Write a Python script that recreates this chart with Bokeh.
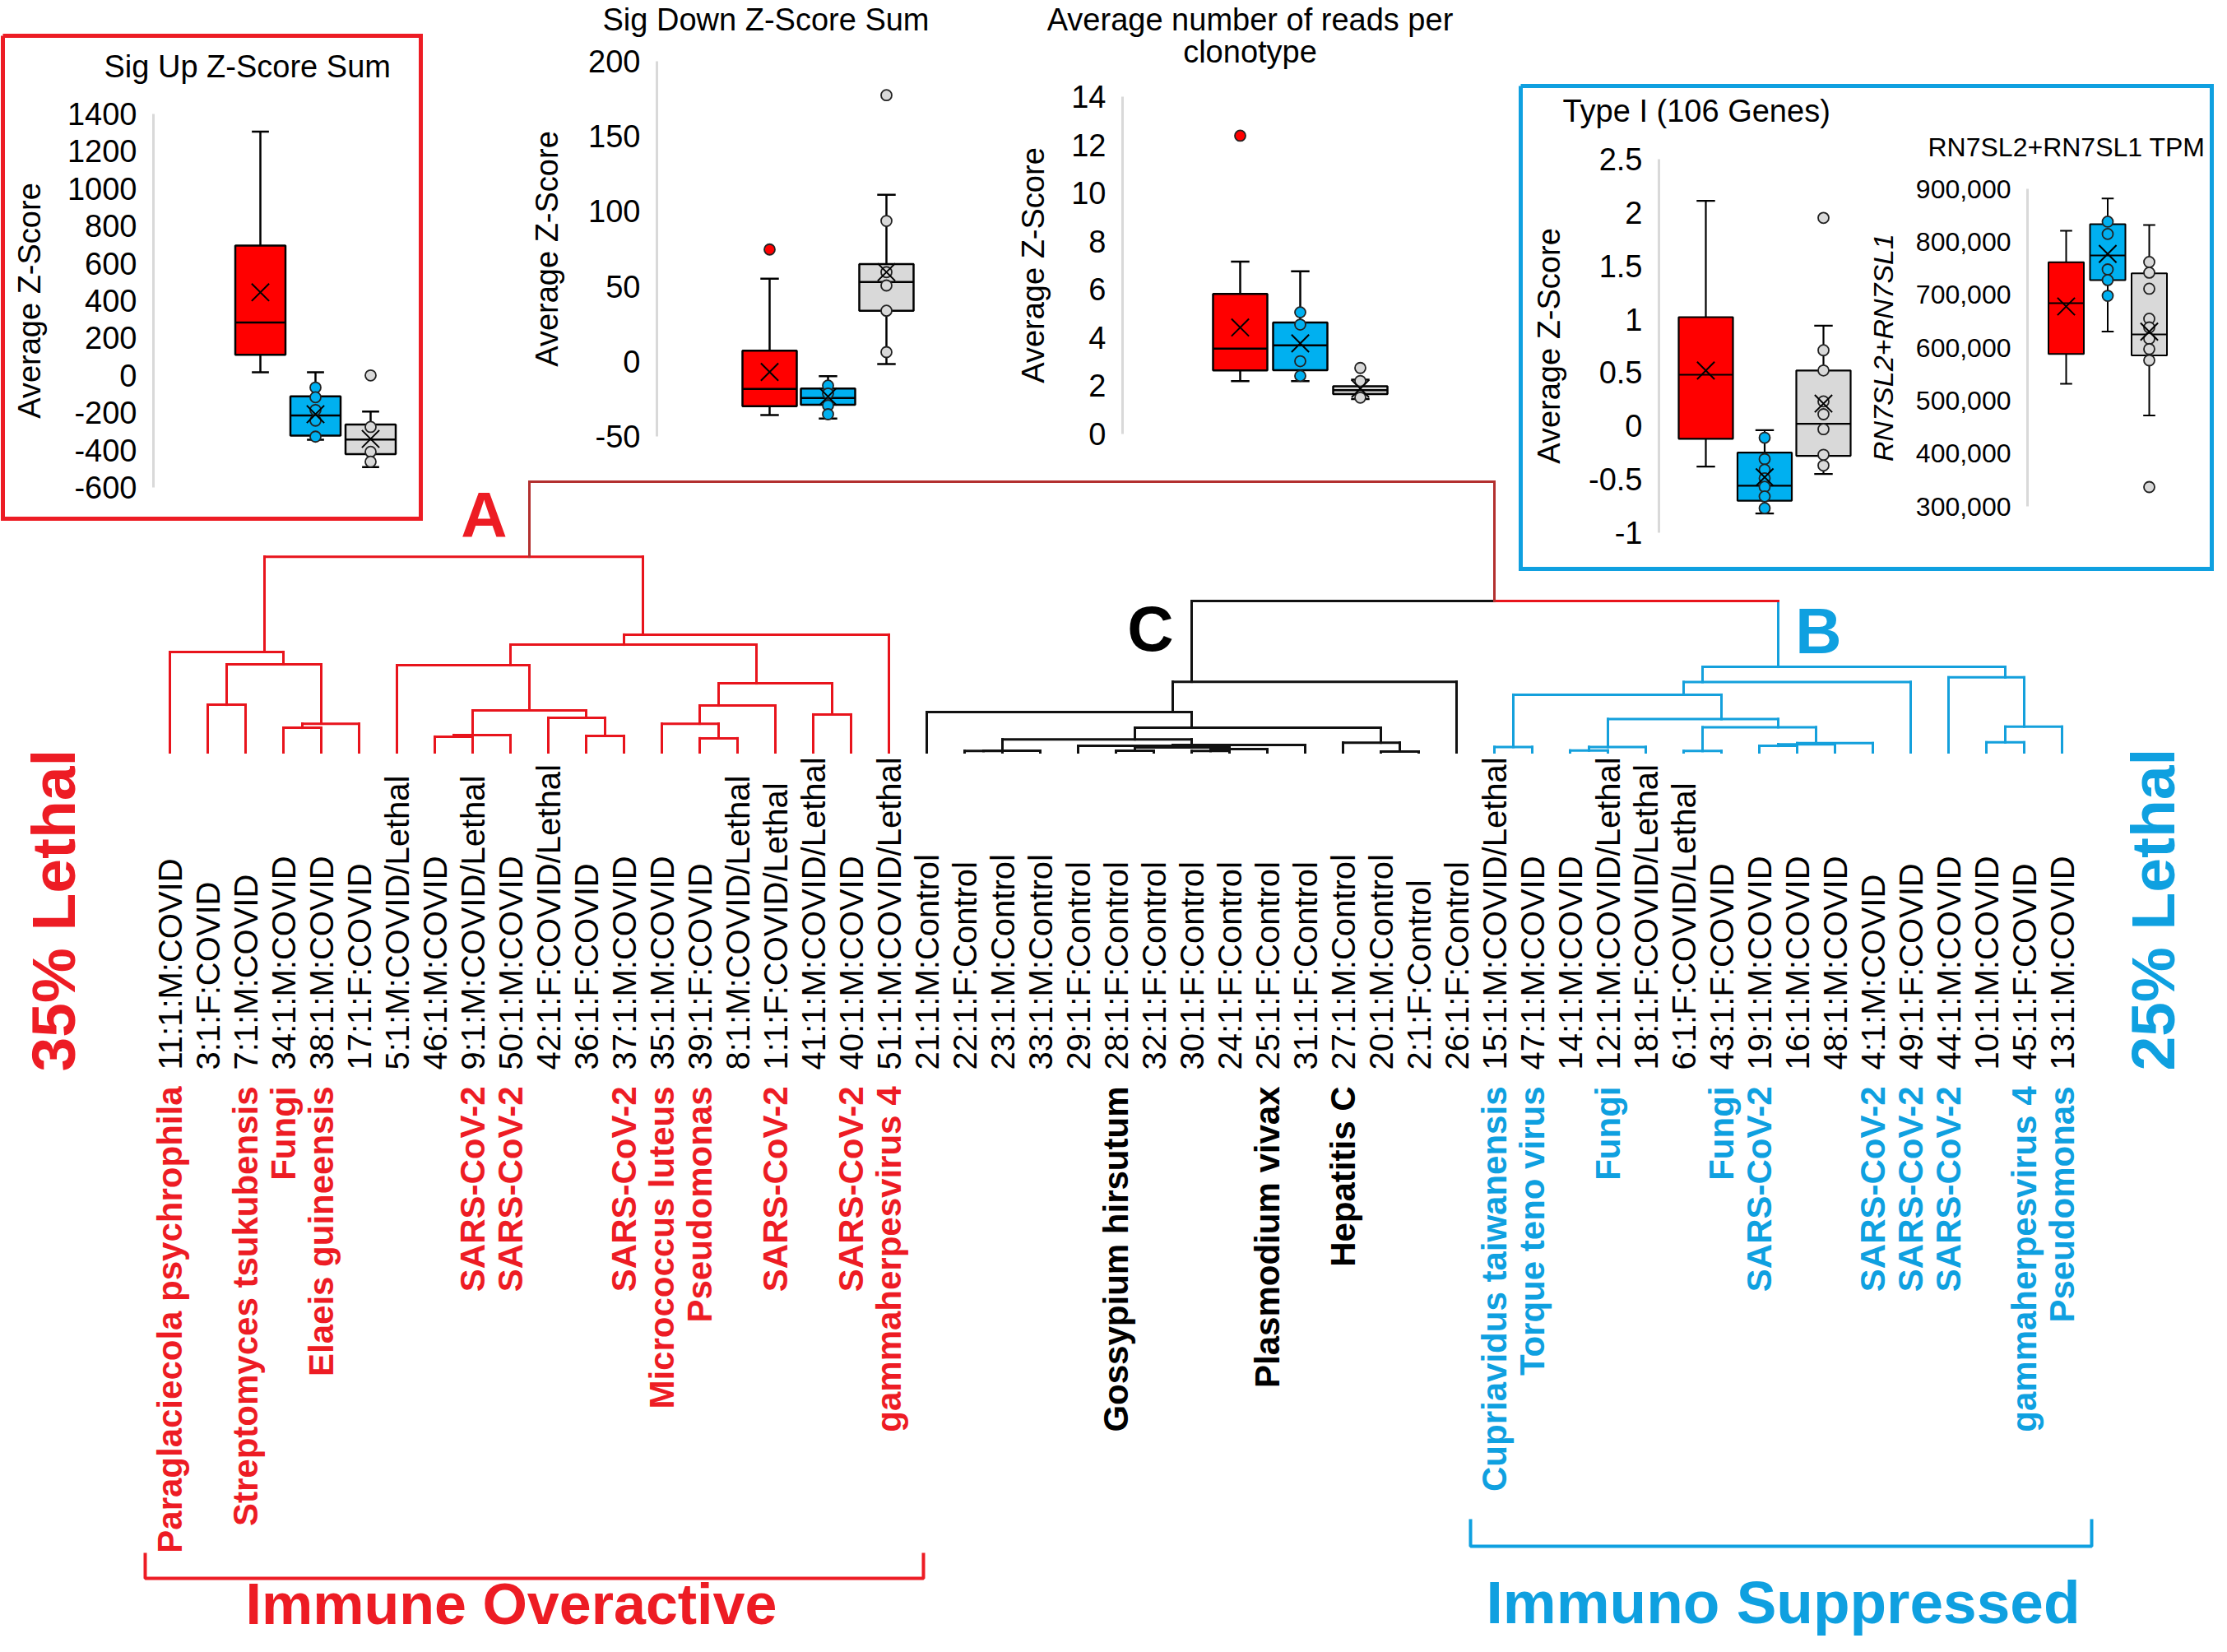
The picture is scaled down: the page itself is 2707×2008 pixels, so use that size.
import math
from bokeh.plotting import figure
from bokeh.models import Range1d, ColumnDataSource, FixedTicker, GridBox, Column
from bokeh.core.properties import value
from bokeh.embed import file_html
from bokeh.resources import INLINE

FONT = "Liberation Sans"
RED = "#ED1C24"
BLUE = "#0FA0E0"
ROOT_COL = "#B3302F"
BOX_FILLS = ["#FF0000", "#00B0F0", "#D9D9D9"]
LINE_COL = {"A": "#E8141C", "C": "#111111", "B": "#14A0DC"}
TEXT_COL = {"A": RED, "C": "#000000", "B": BLUE}

# ---------------------------------------------------------------- samples / dendrogram
SAMPLES = ["11:1:M:COVID", "3:1:F:COVID", "7:1:M:COVID", "34:1:M:COVID", "38:1:M:COVID", "17:1:F:COVID",
           "5:1:M:COVID/Lethal", "46:1:M:COVID", "9:1:M:COVID/Lethal", "50:1:M:COVID", "42:1:F:COVID/Lethal",
           "36:1:F:COVID", "37:1:M:COVID", "35:1:M:COVID", "39:1:F:COVID", "8:1:M:COVID/Lethal",
           "1:1:F:COVID/Lethal", "41:1:M:COVID/Lethal", "40:1:M:COVID", "51:1:M:COVID/Lethal",
           "21:1:M:Control", "22:1:F:Control", "23:1:M:Control", "33:1:M:Control", "29:1:F:Control",
           "28:1:F:Control", "32:1:F:Control", "30:1:F:Control", "24:1:F:Control", "25:1:F:Control",
           "31:1:F:Control", "27:1:M:Control", "20:1:M:Control", "2:1:F:Control", "26:1:F:Control",
           "15:1:M:COVID/Lethal", "47:1:M:COVID", "14:1:M:COVID", "12:1:M:COVID/Lethal", "18:1:F:COVID/Lethal",
           "6:1:F:COVID/Lethal", "43:1:F:COVID", "19:1:M:COVID", "16:1:M:COVID", "48:1:M:COVID",
           "4:1:M:COVID", "49:1:F:COVID", "44:1:M:COVID", "10:1:M:COVID", "45:1:F:COVID", "13:1:M:COVID"]

ORGANISMS = ["Paraglaciecola psychrophila", "", "Streptomyces tsukubensis", "Fungi", "Elaeis guineensis", "",
             "", "", "SARS-CoV-2", "SARS-CoV-2", "", "", "SARS-CoV-2", "Micrococcus luteus", "Pseudomonas", "",
             "SARS-CoV-2", "", "SARS-CoV-2", "gammaherpesvirus 4",
             "", "", "", "", "", "Gossypium hirsutum", "", "", "", "Plasmodium vivax", "", "Hepatitis C", "", "", "",
             "Cupriavidus taiwanensis", "Torque teno virus", "", "Fungi", "", "", "Fungi", "SARS-CoV-2", "", "",
             "SARS-CoV-2", "SARS-CoV-2", "SARS-CoV-2", "", "gammaherpesvirus 4", "Pseudomonas"]

CLUSTERS = ["A"] * 20 + ["C"] * 15 + ["B"] * 16

# merges: node ids 0..50 are leaves, merge k creates node 51+k
MERGE_A = [3, 51, 1, 53, 0, 7, 56, 11, 10, 57, 6, 14, 13, 63, 17, 64, 61, 67, 55,
           21, 70, 25, 27, 73, 72, 24, 76, 71, 32, 31, 78, 20, 82,
           35, 37, 85, 40, 42, 88, 89, 87, 86, 84, 93, 48, 95, 47, 94, 83, 69]
MERGE_B = [4, 5, 2, 52, 54, 8, 9, 12, 58, 59, 60, 15, 62, 16, 18, 65, 66, 19, 68,
           22, 23, 26, 28, 29, 74, 75, 30, 77, 33, 79, 80, 81, 34,
           36, 38, 39, 41, 43, 44, 45, 90, 91, 92, 46, 49, 50, 96, 97, 98, 99]
MERGE_H = [0.91, 1.06, 1.76, 3.25, 3.71, 0.58, 0.64, 0.61, 1.28, 1.55, 3.22, 0.52, 1.06, 1.73, 1.40, 2.55, 3.98, 4.35, 7.23,
           0.05, 0.06, 0.06, 0.05, 0.12, 0.18, 0.24, 0.27, 0.48, 0.03, 0.36, 0.91, 1.49, 2.61,
           0.20, 0.07, 0.20, 0.05, 0.24, 0.30, 0.34, 0.93, 1.23, 2.13, 2.60, 0.37, 0.95, 2.77, 3.16, 5.59, 10.0]

# ---------------------------------------------------------------- box plot data (groups: A red, B blue, C gray)
SIGUP_TICKS = [-600, -400, -200, 0, 200, 400, 600, 800, 1000, 1200, 1400]
SIGUP_Q1 = [110, -323, -422]
SIGUP_MED = [283, -215, -343]
SIGUP_Q3 = [695, -112, -263]
SIGUP_LO = [17, -345, -491]
SIGUP_HI = [1305, 17, -194]
SIGUP_MEAN = [445, -208, -340]
SIGUP_PTS = [[], [-65, -117, -185, -242, -328], [0, -276, -409, -462]]

SIGDOWN_TICKS = [-50, 0, 50, 100, 150, 200]
SIGDOWN_Q1 = [-29.9, -28.9, 33.8]
SIGDOWN_MED = [-18.4, -24.4, 53.0]
SIGDOWN_Q3 = [7.2, -18.1, 64.8]
SIGDOWN_LO = [-35.8, -38.1, -1.7]
SIGDOWN_HI = [55.1, -9.8, 111.1]
SIGDOWN_MEAN = [-7.0, -23.4, 59.5]
SIGDOWN_PTS = [[74.6], [-16.1, -21.4, -29.3, -35.2], [177.4, 93.6, 59.5, 50.6, 33.8, 6.2]]

READS_TICKS = [0, 2, 4, 6, 8, 10, 12, 14]
READS_Q1 = [2.64, 2.65, 1.66]
READS_MED = [3.54, 3.68, 1.82]
READS_Q3 = [5.81, 4.63, 1.98]
READS_LO = [2.19, 2.19, 1.45]
READS_HI = [7.15, 6.75, 2.25]
READS_MEAN = [4.42, 3.76, 1.88]
READS_PTS = [[12.38], [5.05, 4.54, 3.02, 2.41], [2.74, 2.2, 1.51]]

TYPE1_TICKS = [-1, -0.5, 0, 0.5, 1, 1.5, 2, 2.5]
TYPE1_LABELS = ["-1", "-0.5", "0", "0.5", "1", "1.5", "2", "2.5"]
TYPE1_Q1 = [-0.12, -0.70, -0.28]
TYPE1_MED = [0.48, -0.56, 0.02]
TYPE1_Q3 = [1.02, -0.25, 0.52]
TYPE1_LO = [-0.38, -0.82, -0.45]
TYPE1_HI = [2.11, -0.04, 0.94]
TYPE1_MEAN = [0.52, -0.48, 0.21]
TYPE1_PTS = [[], [-0.11, -0.31, -0.41, -0.49, -0.57, -0.66, -0.77],
             [1.95, 0.71, 0.52, 0.23, 0.11, -0.03, -0.27, -0.37]]

RN7SL_TICKS = [300000, 400000, 500000, 600000, 700000, 800000, 900000]
RN7SL_LABELS = ["300,000", "400,000", "500,000", "600,000", "700,000", "800,000", "900,000"]
RN7SL_Q1 = [588100, 727600, 585100]
RN7SL_MED = [683800, 773900, 624800]
RN7SL_Q3 = [761100, 833000, 740400]
RN7SL_LO = [531500, 630200, 471800]
RN7SL_HI = [820800, 881700, 831800]
RN7SL_MEAN = [677700, 777000, 630200]
RN7SL_PTS = [[], [837900, 814700, 747700, 727600, 697800],
             [761700, 741600, 711200, 654500, 638100, 616800, 597300, 575900, 336500]]

PANEL_TITLES = ["Sig Up Z-Score Sum", "Sig Down Z-Score Sum", "Average number of reads per", "clonotype",
                "Type I (106 Genes)", "RN7SL2+RN7SL1 TPM"]

# ---------------------------------------------------------------- layout constants (reference pixels)
OX, OY = 0, 0
W, H = 2691, 1992
LEAF0, LEAF_DX = 206.0, 46.0
BASE_Y, HT_PX = 914.0, 32.9
SAMPLE_Y, ORG_Y = 1300, 1320


def make_panel(frame, c1, dx, box_px, ticks, tick_labels, q1, med, q3, lo, hi, mean, pts,
               ylabel, label_standoff, tick_fs=38, label_fs=38, italic=False, lw=2.5):
    fl, ft, fr, fb = frame
    L, T, R, B = 205, 40, 25, 40
    xr = Range1d(1 - (c1 - fl) / dx, 1 + (fr - c1) / dx)
    p = figure(width=L + fr - fl + R, height=T + fb - ft + B, x_range=xr,
               y_range=Range1d(ticks[0], ticks[-1]), output_backend="svg",
               toolbar_location=None, x_axis_location=None, title=None,
               min_border_left=L, min_border_right=R, min_border_top=T, min_border_bottom=B)
    p.background_fill_color = None
    p.border_fill_color = None
    p.outline_line_color = None
    p.grid.visible = False
    ax = p.yaxis[0]
    ax.ticker = FixedTicker(ticks=ticks)
    ax.major_label_overrides = {t: s for t, s in zip(ticks, tick_labels)}
    ax.major_tick_line_color = None
    ax.minor_tick_line_color = None
    ax.major_tick_out = 0
    ax.major_tick_in = 0
    ax.minor_tick_out = 0
    ax.minor_tick_in = 0
    ax.axis_line_color = "#D9D9D9"
    ax.axis_line_width = 3
    ax.major_label_standoff = 20
    ax.major_label_text_font = FONT
    ax.major_label_text_font_size = f"{tick_fs}px"
    ax.major_label_text_color = "black"
    ax.axis_label = ylabel
    ax.axis_label_text_font = FONT
    ax.axis_label_text_font_size = f"{label_fs}px"
    ax.axis_label_text_font_style = "italic" if italic else "normal"
    ax.axis_label_text_color = "black"
    ax.axis_label_standoff = label_standoff

    bw = box_px / dx
    cw = 0.34 * bw
    xs = [1, 2, 3]
    src = ColumnDataSource(dict(
        x=xs, q1=q1, med=med, q3=q3, lo=lo, hi=hi, mean=mean, fill=BOX_FILLS,
        bl=[x - bw / 2 for x in xs], br=[x + bw / 2 for x in xs],
        cl=[x - cw / 2 for x in xs], cr=[x + cw / 2 for x in xs]))
    p.segment(x0="x", y0="q3", x1="x", y1="hi", source=src, line_color="black", line_width=lw)
    p.segment(x0="x", y0="q1", x1="x", y1="lo", source=src, line_color="black", line_width=lw)
    p.segment(x0="cl", y0="hi", x1="cr", y1="hi", source=src, line_color="black", line_width=lw)
    p.segment(x0="cl", y0="lo", x1="cr", y1="lo", source=src, line_color="black", line_width=lw)
    p.vbar(x="x", width=bw, top="q3", bottom="q1", source=src, fill_color="fill",
           line_color="black", line_width=lw)
    p.segment(x0="bl", y0="med", x1="br", y1="med", source=src, line_color="black", line_width=lw)
    px, py, pc = [], [], []
    for g, vals in enumerate(pts):
        for v in vals:
            px.append(xs[g]); py.append(v); pc.append(BOX_FILLS[g])
    p.scatter(x=px, y=py, marker="circle", size=13, fill_color=pc, line_color="#222222", line_width=1.8)
    p.scatter(x="x", y="mean", source=src, marker="x", size=30, line_color="black", line_width=2)
    wrap = Column(children=[p], margin=(ft - T - OY, 0, 0, fl - L - OX))
    return wrap


panels = [
    make_panel((186, 138, 505, 592), 316, 67, 61, SIGUP_TICKS, [str(t) for t in SIGUP_TICKS],
               SIGUP_Q1, SIGUP_MED, SIGUP_Q3, SIGUP_LO, SIGUP_HI, SIGUP_MEAN, SIGUP_PTS,
               "Average Z-Score", 22),
    make_panel((798, 74, 1120, 530), 935, 71, 66, SIGDOWN_TICKS, [str(t) for t in SIGDOWN_TICKS],
               SIGDOWN_Q1, SIGDOWN_MED, SIGDOWN_Q3, SIGDOWN_LO, SIGDOWN_HI, SIGDOWN_MEAN, SIGDOWN_PTS,
               "Average Z-Score", 26),
    make_panel((1364, 117, 1700, 527), 1507, 73, 66, READS_TICKS, [str(t) for t in READS_TICKS],
               READS_Q1, READS_MED, READS_Q3, READS_LO, READS_HI, READS_MEAN, READS_PTS,
               "Average Z-Score", 22),
    make_panel((2016, 193, 2260, 647), 2073, 71.5, 66, TYPE1_TICKS, TYPE1_LABELS,
               TYPE1_Q1, TYPE1_MED, TYPE1_Q3, TYPE1_LO, TYPE1_HI, TYPE1_MEAN, TYPE1_PTS,
               "Average Z-Score", 24, lw=2.2),
    make_panel((2464, 229, 2660, 615), 2511, 50.5, 43, RN7SL_TICKS, RN7SL_LABELS,
               RN7SL_Q1, RN7SL_MED, RN7SL_Q3, RN7SL_LO, RN7SL_HI, RN7SL_MEAN, RN7SL_PTS,
               "RN7SL2+RN7SL1", 18, tick_fs=32, label_fs=34, italic=True, lw=2.0),
]

# ---------------------------------------------------------------- big canvas: dendrogram + labels
big = figure(width=W, height=H, x_range=Range1d(OX, OX + W), y_range=Range1d(OY + H, OY),
             output_backend="svg", toolbar_location=None, x_axis_location=None,
             y_axis_location=None, min_border=0, title=None)
big.outline_line_color = None
big.grid.visible = False
big.background_fill_color = "white"
big.border_fill_color = "white"
big.extra_x_ranges = {"leaf": Range1d((OX - LEAF0) / LEAF_DX, (OX + W - LEAF0) / LEAF_DX)}
big.extra_y_ranges = {"ht": Range1d((BASE_Y - (OY + H)) / HT_PX, (BASE_Y - OY) / HT_PX)}

n = len(SAMPLES)
node_x = [float(i) for i in range(n)]
node_h = [0.0] * n
node_leaves = [[i] for i in range(n)]
node_grp = list(CLUSTERS)
seg = dict(x0=[], y0=[], x1=[], y1=[], c=[])


def add(x0, y0, x1, y1, c):
    seg["x0"].append(x0); seg["y0"].append(y0); seg["x1"].append(x1); seg["y1"].append(y1); seg["c"].append(c)


for a, b, h in zip(MERGE_A, MERGE_B, MERGE_H):
    lv = node_leaves[a] + node_leaves[b]
    x = sum(lv) / len(lv)
    ga, gb = node_grp[a], node_grp[b]
    xa, xb = node_x[a], node_x[b]
    if ga == gb and ga != "mix":
        col = LINE_COL[ga]
        add(xa, node_h[a], xa, h, col); add(xb, node_h[b], xb, h, col); add(xa, h, xb, h, col)
        g = ga
    elif ga != "mix" and gb != "mix":
        add(xa, node_h[a], xa, h, LINE_COL[ga]); add(xb, node_h[b], xb, h, LINE_COL[gb])
        add(xa, h, x, h, LINE_COL[ga]); add(x, h, xb, h, LINE_COL["A"])
        g = "mix"
    else:
        add(xa, node_h[a], xa, h, ROOT_COL); add(xb, node_h[b], xb, h, ROOT_COL); add(xa, h, xb, h, ROOT_COL)
        g = "mix"
    node_x.append(x); node_h.append(h); node_leaves.append(lv); node_grp.append(g)

big.segment(x0="x0", y0="y0", x1="x1", y1="y1", line_color="c", line_width=3, line_cap="square",
            source=ColumnDataSource(seg), x_range_name="leaf", y_range_name="ht")

# sample labels
big.text(x=list(range(n)), y=[SAMPLE_Y] * n, text=SAMPLES, x_range_name="leaf", angle=math.pi / 2,
         text_font=value(FONT), text_font_size="40px", text_align="left", text_baseline="middle",
         text_color="black")
# organism labels
oi = [i for i in range(n) if ORGANISMS[i]]
big.text(x=oi, y=[ORG_Y] * len(oi), text=[ORGANISMS[i] for i in oi],
         text_color=[TEXT_COL[CLUSTERS[i]] for i in oi], x_range_name="leaf", angle=math.pi / 2,
         text_font=value(FONT), text_font_size="42px", text_font_style="bold", text_align="right",
         text_baseline="middle")

# panel titles
big.text(x=[126, 732, 1519, 1519, 1899], y=[80, 23, 23, 62, 134],
         text=[PANEL_TITLES[0], PANEL_TITLES[1], PANEL_TITLES[2], PANEL_TITLES[3], PANEL_TITLES[4]],
         text_align=["left", "left", "center", "center", "left"],
         text_font=value(FONT), text_font_size="38px", text_baseline="middle", text_color="black")
big.text(x=[2343], y=[178], text=[PANEL_TITLES[5]], text_align="left",
         text_font=value(FONT), text_font_size="32px", text_baseline="middle", text_color="black")

# panel frames
big.line(x=[3, 511, 511, 3, 3], y=[43, 43, 630, 630, 43], line_color=RED, line_width=5, line_join="miter")
big.line(x=[1848, 2688, 2688, 1848, 1848], y=[104, 104, 691, 691, 104], line_color=BLUE, line_width=5,
         line_join="miter")
# brackets
big.line(x=[176, 176, 1122, 1122], y=[1887, 1918, 1918, 1887], line_color=RED, line_width=4)
big.line(x=[1787, 1787, 2542, 2542], y=[1846, 1879, 1879, 1846], line_color=BLUE, line_width=4)

# cluster letters and group captions
big.text(x=[588, 1398, 2210], y=[625, 763, 766], text=["A", "C", "B"], text_color=[RED, "black", BLUE],
         text_font=value(FONT), text_font_size="78px", text_font_style="bold", text_align="center",
         text_baseline="middle")
big.text(x=[64, 2616], y=[1106, 1105], text=["35% Lethal", "25% Lethal"], text_color=[RED, BLUE],
         angle=math.pi / 2, text_font=value(FONT), text_font_size="75px", text_font_style="bold",
         text_align="center", text_baseline="middle")
big.text(x=[621], y=[1949], text=["Immune Overactive"], text_color=[RED],
         text_font=value(FONT), text_font_size="70px", text_font_style="bold",
         text_align="center", text_baseline="middle")
big.text(x=[2167], y=[1947], text=["Immuno Suppressed"], text_color=[BLUE],
         text_font=value(FONT), text_font_size="73px", text_font_style="bold",
         text_align="center", text_baseline="middle")

root = GridBox(children=[(big, 0, 0)] + [(p, 0, 0) for p in panels])
open("out.html", "w").write(file_html(root, INLINE))
